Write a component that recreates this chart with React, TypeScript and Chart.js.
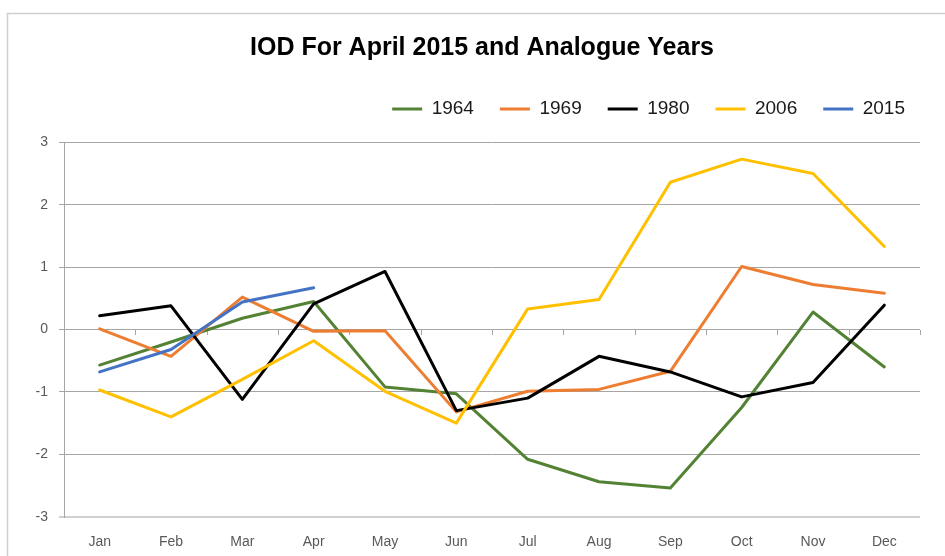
import React, { useEffect, useRef } from 'react';
import { Chart, registerables } from 'chart.js';

Chart.register(...registerables);

const chartTitle = 'IOD For April 2015 and Analogue Years';
const months = ['Jan', 'Feb', 'Mar', 'Apr', 'May', 'Jun', 'Jul', 'Aug', 'Sep', 'Oct', 'Nov', 'Dec'];
const seriesNames = ['1964', '1969', '1980', '2006', '2015'];
const seriesColors = ['#548235', '#ED7D31', '#000000', '#FFC000', '#4472C4'];

const iod1964 = [-0.57, -0.2, 0.18, 0.45, -0.92, -1.03, -2.08, -2.44, -2.54, -1.25, 0.28, -0.6];
const iod1969 = [0.01, -0.43, 0.52, -0.03, -0.02, -1.32, -0.99, -0.96, -0.67, 1.01, 0.72, 0.58];
const iod1980 = [0.22, 0.38, -1.12, 0.41, 0.93, -1.3, -1.1, -0.43, -0.68, -1.08, -0.85, 0.39];
const iod2006 = [-0.97, -1.4, -0.8, -0.18, -0.99, -1.5, 0.33, 0.48, 2.36, 2.73, 2.5, 1.33];
const iod2015 = [-0.68, -0.32, 0.44, 0.67, null, null, null, null, null, null, null, null];

const yMin = -3;
const yMax = 3;
const yStep = 1;

function hasFont(name: string): boolean {
  const c = document.createElement('canvas').getContext('2d');
  if (!c) return false;
  const s = 'IOD For April 2015 abcmwi';
  c.font = '40px monospace';
  const a = c.measureText(s).width;
  c.font = `40px '${name}', monospace`;
  const b = c.measureText(s).width;
  return Math.abs(a - b) > 0.5;
}

export default function App() {
  const ref = useRef<HTMLCanvasElement>(null);

  useEffect(() => {
    const canvas = ref.current;
    if (!canvas) return;
    const narrow = hasFont('Liberation Sans Narrow');
    const titleSize = narrow ? 30.5 : 25;
    const titleFamily = narrow ? "'Liberation Sans Narrow', 'Liberation Sans', Arial, sans-serif" : "'Liberation Sans', Arial, sans-serif";
    const titleLH = titleSize * 1.2;
    const titleCenter = 48;
    const legendTop = 73.5;
    const titlePadTop = titleCenter - titleLH / 2;
    const titlePadBottom = legendTop - titlePadTop - titleLH;
    const family = "'Liberation Sans', Arial, sans-serif";

    const allSeries = [iod1964, iod1969, iod1980, iod2006, iod2015];

    const boxTweaks = {
      id: 'boxTweaks',
      beforeLayout(chart: any) {
        const lg = chart.legend;
        if (lg && !lg.__patched) {
          const orig = lg.fit;
          lg.fit = function () {
            orig.call(this);
            this.height += 13.8;
          };
          lg.__patched = true;
        }
      },
      beforeDraw(chart: any) {
        if (chart.legend) chart.legend.right = chart.chartArea.right + 11;
        if (chart.titleBlock) chart.titleBlock.left = 44;
      },
    };

    const frame = {
      id: 'frame',
      beforeDraw(chart: any) {
        const { ctx, width, height } = chart;
        ctx.save();
        ctx.strokeStyle = '#d0d0d0';
        ctx.lineWidth = 1.5;
        ctx.beginPath();
        ctx.moveTo(7.5, height + 5);
        ctx.lineTo(7.5, 13.5);
        ctx.lineTo(width + 5, 13.5);
        ctx.stroke();
        ctx.restore();
      },
    };

    const zeroTicks = {
      id: 'zeroTicks',
      beforeDatasetsDraw(chart: any) {
        const { ctx, scales } = chart;
        const y0 = Math.round(scales.y.getPixelForValue(0));
        ctx.save();
        ctx.strokeStyle = '#a6a6a6';
        ctx.lineWidth = 1;
        ctx.beginPath();
        for (let i = 0; i <= months.length; i++) {
          const x = Math.round(scales.x.getPixelForValue(i - 0.5)) + 0.5;
          ctx.moveTo(x, y0);
          ctx.lineTo(x, y0 + 5);
        }
        ctx.stroke();
        ctx.restore();
      },
    };

    const chart = new Chart(canvas, {
      type: 'line',
      data: {
        labels: months,
        datasets: seriesNames.map((name, i) => ({
          label: name,
          data: allSeries[i],
          borderColor: seriesColors[i],
          backgroundColor: seriesColors[i],
          borderWidth: 3,
          pointRadius: 0,
          pointHoverRadius: 0,
          tension: 0,
          borderJoinStyle: 'round' as const,
          borderCapStyle: 'round' as const,
          spanGaps: false,
          fill: false,
          order: seriesNames.length - 1 - i,
        })),
      },
      options: {
        responsive: false,
        animation: false,
        events: [],
        layout: { padding: { left: 0, right: 25, top: 0, bottom: 0 } },
        plugins: {
          tooltip: { enabled: false },
          title: {
            display: true,
            text: chartTitle,
            color: '#000000',
            font: { family: titleFamily, size: titleSize, weight: 'bold', lineHeight: 1.2 },
            padding: { top: titlePadTop, bottom: titlePadBottom },
          },
          legend: {
            display: true,
            position: 'top',
            align: 'end',
            labels: {
              boxWidth: 30,
              boxHeight: 3,
              padding: 26,
              color: '#1a1a1a',
              font: { family, size: 19 },
              sort: (a: any, b: any) => a.datasetIndex - b.datasetIndex,
              generateLabels: (ch: any) =>
                (Chart.defaults.plugins.legend.labels as any).generateLabels(ch).map((l: any) => ({
                  ...l,
                  lineWidth: 0,
                  fillStyle: l.strokeStyle,
                })),
            },
          },
        },
        scales: {
          x: {
            offset: true,
            grid: { display: false, drawTicks: false },
            border: { display: false },
            ticks: { padding: 17, color: '#595959', font: { family, size: 14 }, maxRotation: 0, autoSkip: false },
            afterFit: (s: any) => {
              s.height = 39.3;
            },
          },
          y: {
            min: yMin,
            max: yMax,
            ticks: { stepSize: yStep, padding: 11, color: '#595959', font: { family, size: 14 } },
            grid: {
              color: (c: any) => (c.tick && c.tick.value === yMin ? '#d0d0d0' : '#a6a6a6'),
              lineWidth: (c: any) => (c.tick && c.tick.value === yMin ? 2 : 1),
              tickLength: 5,
              drawTicks: true,
            },
            border: { display: true, color: '#a6a6a6' },
            afterFit: (s: any) => {
              s.width = 64;
            },
          },
        },
      },
      plugins: [boxTweaks, frame, zeroTicks],
    } as any);

    return () => chart.destroy();
  }, []);

  return (
    <div style={{ position: 'absolute', left: 0, top: 0, width: 945, height: 556, background: '#ffffff' }}>
      <canvas ref={ref} width={945} height={556} style={{ display: 'block', width: 945, height: 556 }} />
    </div>
  );
}
